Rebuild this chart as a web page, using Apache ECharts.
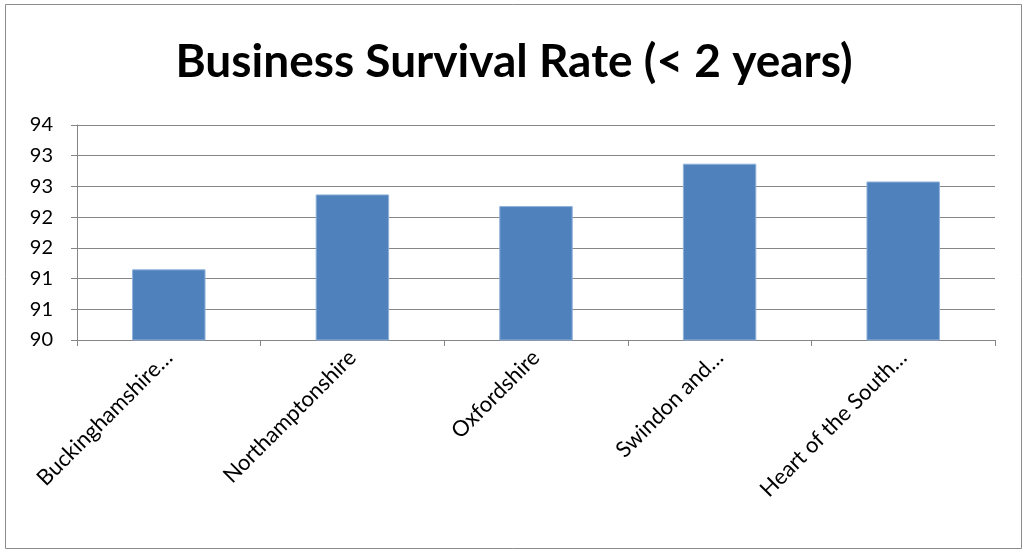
<!DOCTYPE html>
<html><head><meta charset="utf-8">
<script src="https://cdn.jsdelivr.net/npm/echarts@6/dist/echarts.min.js"></script>
<style>html,body{margin:0;padding:0;background:#fff;}#c{width:1028px;height:553px;}</style>
</head><body><div id="c"></div>
<script>
const titleText = 'Business Survival Rate (< 2 years)';
const categories = ['Buckinghamshire…', 'Northamptonshire', 'Oxfordshire', 'Swindon and…', 'Heart of the South…'];
const values = [91.15, 92.37, 92.18, 92.87, 92.58];
const yTickLabels = ['90', '91', '91', '92', '92', '93', '93', '94'];
const yMin = 90, yMax = 93.5, yStep = 0.5;

const chart = echarts.init(document.getElementById('c'));
const font = 'Lato, "Open Sans", sans-serif';
chart.setOption({
  animation: false,
  backgroundColor: '#fff',
  graphic: [{type: 'rect', shape: {x: 5.5, y: 4.5, width: 1016, height: 544}, style: {fill: 'none', stroke: '#8c8c8c', lineWidth: 1}}],
  title: {text: titleText, left: 'center', top: 34, textStyle: {fontFamily: font, fontSize: 46, fontWeight: 'bold', color: '#000'}},
  grid: {left: 77, right: 33, top: 125, bottom: 213, containLabel: false},
  xAxis: {
    type: 'category', data: categories,
    axisLine: {lineStyle: {color: '#868686', width: 1}},
    axisTick: {show: true, alignWithLabel: false, length: 6, lineStyle: {color: '#868686'}},
    axisLabel: {rotate: 45, fontFamily: font, fontSize: 22, color: '#000', margin: 14, interval: 0}
  },
  yAxis: {
    type: 'value', min: yMin, max: yMax, interval: yStep,
    axisLine: {show: true, lineStyle: {color: '#868686'}},
    axisTick: {show: true, length: 6, lineStyle: {color: '#868686'}},
    splitLine: {lineStyle: {color: '#868686', width: 1}},
    axisLabel: {fontFamily: font, fontSize: 20, color: '#000', margin: 24,
      formatter: function (v) { const i = Math.round((v - yMin) / yStep); return yTickLabels[i] || ''; }}
  },
  series: [{type: 'bar', data: values, barWidth: '40%',
    itemStyle: {color: '#4F81BD', borderColor: '#8fb0d8', borderWidth: 1}}]
});
</script></body></html>
